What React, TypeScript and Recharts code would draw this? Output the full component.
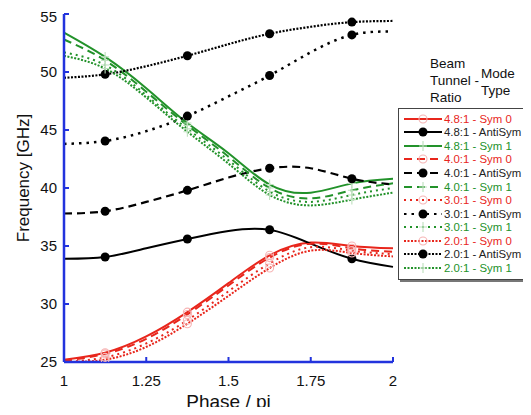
import { LineChart, Line, XAxis, YAxis, Legend } from "recharts";

const phase = [1, 1.125, 1.25, 1.375, 1.5, 1.625, 1.75, 1.875, 2];
const markerPhases = [1.125, 1.375, 1.625, 1.875];
const xTicks = [1, 1.25, 1.5, 1.75, 2];
const yTicks = [25, 30, 35, 40, 45, 50, 55];

// Sym 0 (red)
const sym0_48 = [25.2, 25.8, 27.2, 29.3, 31.8, 34.2, 35.3, 35.0, 34.8];
const sym0_40 = [25.1, 25.7, 27.0, 29.1, 31.6, 34.0, 35.2, 34.8, 34.5];
const sym0_30 = [25.0, 25.4, 26.6, 28.6, 31.1, 33.5, 34.9, 34.6, 34.3];
const sym0_20 = [25.0, 25.2, 26.3, 28.3, 30.7, 33.1, 34.6, 34.4, 34.1];

// AntiSym (black)
const anti_48 = [33.9, 34.05, 34.8, 35.6, 36.3, 36.4, 35.2, 33.9, 33.2];
const anti_40 = [37.8, 38.0, 38.8, 39.8, 40.9, 41.7, 41.7, 40.8, 40.3];
const anti_30 = [43.8, 44.05, 44.9, 46.2, 47.9, 49.7, 51.7, 53.2, 53.5];
const anti_20 = [49.5, 49.8, 50.5, 51.4, 52.4, 53.3, 53.9, 54.3, 54.4];

// Sym 1 (green)
const sym1_48 = [53.4, 51.3, 48.6, 45.6, 43.0, 40.3, 39.6, 40.4, 40.8];
const sym1_40 = [52.8, 51.0, 48.3, 45.4, 42.7, 40.0, 39.1, 39.8, 40.4];
const sym1_30 = [51.7, 50.6, 48.0, 45.1, 42.4, 39.7, 38.8, 39.4, 40.0];
const sym1_20 = [51.4, 50.3, 47.8, 44.85, 42.1, 39.4, 38.5, 39.0, 39.6];

const RED = "#e8261c";
const GREEN = "#22922a";
const BLACK = "#000000";
const BLUE = "#2233dd";
const FONT = "'Liberation Sans', Arial, sans-serif";

type Marker = "circle" | "disc" | "plus";

const series = [
  { key: "s0_48", name: "4.8:1 - Sym 0", values: sym0_48, color: RED, dash: undefined, marker: "circle" as Marker, width: 2 },
  { key: "a_48", name: "4.8:1 - AntiSym", values: anti_48, color: BLACK, dash: undefined, marker: "disc" as Marker, width: 2 },
  { key: "s1_48", name: "4.8:1 - Sym 1", values: sym1_48, color: GREEN, dash: undefined, marker: "plus" as Marker, width: 2 },
  { key: "s0_40", name: "4.0:1 - Sym 0", values: sym0_40, color: RED, dash: "8 5", marker: "circle" as Marker, width: 2 },
  { key: "a_40", name: "4.0:1 - AntiSym", values: anti_40, color: BLACK, dash: "8 5", marker: "disc" as Marker, width: 2.2 },
  { key: "s1_40", name: "4.0:1 - Sym 1", values: sym1_40, color: GREEN, dash: "8 5", marker: "plus" as Marker, width: 2 },
  { key: "s0_30", name: "3.0:1 - Sym 0", values: sym0_30, color: RED, dash: "2 4", marker: "circle" as Marker, width: 2 },
  { key: "a_30", name: "3.0:1 - AntiSym", values: anti_30, color: BLACK, dash: "2.5 5", marker: "disc" as Marker, width: 2.5 },
  { key: "s1_30", name: "3.0:1 - Sym 1", values: sym1_30, color: GREEN, dash: "2 4", marker: "plus" as Marker, width: 2 },
  { key: "s0_20", name: "2.0:1 - Sym 0", values: sym0_20, color: RED, dash: "2 1.5", marker: "circle" as Marker, width: 2 },
  { key: "a_20", name: "2.0:1 - AntiSym", values: anti_20, color: BLACK, dash: "2 1.5", marker: "disc" as Marker, width: 2.2 },
  { key: "s1_20", name: "2.0:1 - Sym 1", values: sym1_20, color: GREEN, dash: "2 1.5", marker: "plus" as Marker, width: 2 },
];

const rows = phase.map((x, i) => {
  const row: Record<string, number> = { x };
  series.forEach((s) => {
    row[s.key] = s.values[i];
  });
  return row;
});

function MarkerShape({ kind, cx, cy }: { kind: Marker; cx: number; cy: number }) {
  if (kind === "disc") return <circle cx={cx} cy={cy} r={4.5} fill="#000" />;
  if (kind === "circle")
    return <circle cx={cx} cy={cy} r={4} fill="none" stroke="#f6b4b4" strokeWidth={1.1} />;
  return (
    <path
      d={`M${cx - 4},${cy}h8M${cx},${cy - 5}v10`}
      stroke="#bcdfbc"
      strokeWidth={1.1}
      fill="none"
    />
  );
}

function makeDot(kind: Marker) {
  return (props: any) => {
    const { cx, cy, payload, index } = props;
    if (!markerPhases.includes(payload.x)) return <g key={index} />;
    return (
      <g key={index}>
        <MarkerShape kind={kind} cx={cx} cy={cy} />
      </g>
    );
  };
}

function LegendBox() {
  return (
    <div style={{ fontFamily: FONT, width: 131, position: "relative" }}>
      <div style={{ position: "absolute", left: 32, top: 0, fontSize: 13.5, lineHeight: "17px", color: "#111" }}>
        Beam
        <br />
        Tunnel -
        <br />
        Ratio
      </div>
      <div style={{ position: "absolute", left: 83, top: 9.5, fontSize: 13.5, lineHeight: "17px", color: "#111" }}>
        Mode
        <br />
        Type
      </div>
      <div
        style={{
          position: "absolute",
          left: 0,
          top: 53,
          width: 128,
          border: "1px solid #444",
          boxShadow: "2px 2px 0 #777",
          background: "#fff",
          padding: "3px 0 4px 0",
          overflow: "hidden",
        }}
      >
        {series.map((s) => (
          <div key={s.key} style={{ display: "flex", alignItems: "center", height: 13.55 }}>
            <svg width={38} height={12} style={{ marginLeft: 5, marginRight: 2, flex: "none" }}>
              <line x1={0} x2={38} y1={6} y2={6} stroke={s.color} strokeWidth={2} strokeDasharray={s.dash} />
              <MarkerShape kind={s.marker} cx={19} cy={6} />
            </svg>
            <span
              style={{
                fontSize: 11.4,
                color: s.color === BLACK ? "#222" : s.color,
                whiteSpace: "nowrap",
              }}
            >
              {s.name}
            </span>
          </div>
        ))}
      </div>
    </div>
  );
}

function YTitle(props: any) {
  const { viewBox } = props;
  const x = viewBox.x + 17;
  const y = viewBox.y + viewBox.height / 2 - 10;
  return (
    <text
      x={x}
      y={y}
      transform={`rotate(-90, ${x}, ${y})`}
      textAnchor="middle"
      dominantBaseline="middle"
      fontSize={17}
      fontFamily={FONT}
      fill="#111"
    >
      Frequency [GHz]
    </text>
  );
}

const axisLine = { stroke: BLUE, strokeWidth: 2.5 };
const tickLine = { stroke: BLUE, strokeWidth: 2 };
const tickStyle = { fontSize: 15, fontFamily: FONT, fill: "#111" };

export default function App() {
  return (
    <div style={{ height: 399 }}>
      <LineChart
        width={523}
        height={407}
        data={rows}
        margin={{ top: 6, right: 138, left: 0, bottom: 0 }}
      >
        <XAxis
          dataKey="x"
          type="number"
          domain={[1, 2]}
          ticks={xTicks}
          height={53}
          axisLine={axisLine}
          tickLine={tickLine}
          tickSize={-5}
          tickMargin={18}
          tick={tickStyle}
          label={{
            value: "Phase / pi",
            position: "insideBottom",
            offset: 7,
            fontSize: 19,
            fontFamily: FONT,
            fill: "#111",
          }}
        />
        <XAxis
          xAxisId="top"
          orientation="top"
          dataKey="x"
          type="number"
          domain={[1, 2]}
          ticks={xTicks}
          height={0}
          axisLine={axisLine}
          tickLine={tickLine}
          tickSize={-5}
          tick={false}
        />
        <YAxis
          type="number"
          domain={[25, 55]}
          ticks={yTicks}
          width={56}
          axisLine={axisLine}
          tickLine={tickLine}
          tickSize={-5}
          tickMargin={12}
          tick={tickStyle}
          allowDataOverflow
          label={<YTitle />}
        />
        <YAxis
          yAxisId="right"
          orientation="right"
          type="number"
          domain={[25, 55]}
          ticks={yTicks}
          width={0}
          axisLine={axisLine}
          tickLine={tickLine}
          tickSize={-5}
          tick={false}
        />
        <Legend
          layout="vertical"
          align="center"
          verticalAlign="middle"
          wrapperStyle={{ left: 390, top: 47, width: 131, height: 240 }}
          content={() => <LegendBox />}
        />
        {series.map((s) => (
          <Line
            key={s.key}
            dataKey={s.key}
            name={s.name}
            type="natural"
            stroke={s.color}
            strokeWidth={s.width}
            strokeDasharray={s.dash}
            dot={makeDot(s.marker)}
            activeDot={false}
            isAnimationActive={false}
          />
        ))}
      </LineChart>
    </div>
  );
}
